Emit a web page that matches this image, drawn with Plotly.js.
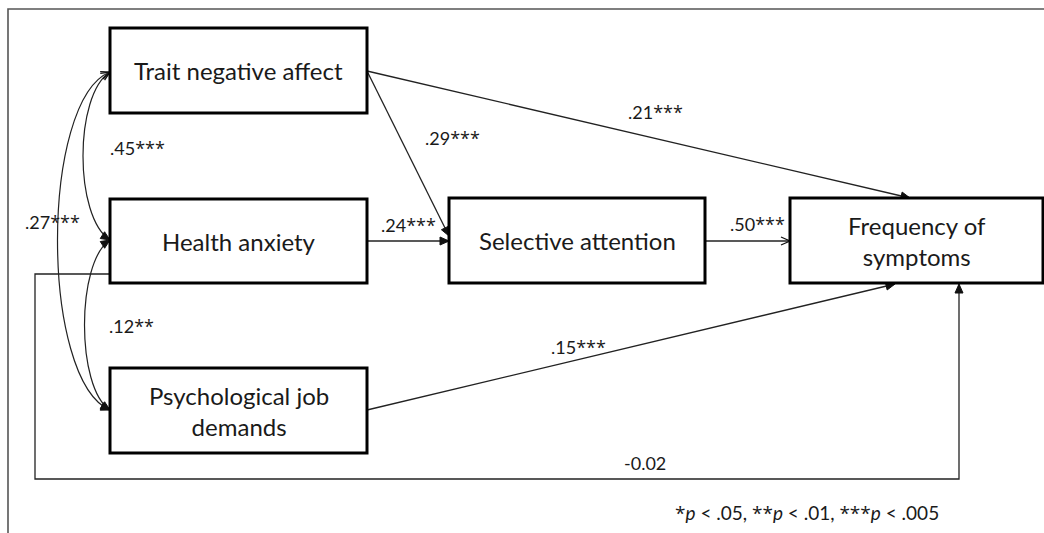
<!DOCTYPE html>
<html><head><meta charset="utf-8">
<script src="https://cdn.plot.ly/plotly-3.0.1.min.js"></script>
<style>html,body{margin:0;padding:0;background:#fff}</style>
</head><body><div id="chart" style="width:1044px;height:533px"></div>
<script>
// ---- data (text content) ----
const nodeIds = ['TNA', 'HA', 'PJD', 'SA', 'FS'];
const nodeLabels = ['Trait negative affect', 'Health anxiety', 'Psychological job<br>demands', 'Selective attention', 'Frequency of<br>symptoms'];
const pathFrom = ['TNA', 'TNA', 'HA', 'SA', 'PJD', 'HA'];
const pathTo = ['FS', 'SA', 'SA', 'FS', 'FS', 'FS'];
const pathCoefficients = ['.21***', '.29***', '.24***', '.50***', '.15***', '-0.02'];
const covPairs = [['TNA', 'HA'], ['TNA', 'PJD'], ['HA', 'PJD']];
const covCoefficients = ['.45***', '.27***', '.12**'];
const footnote = '*<i>p</i> < .05, **<i>p</i> < .01, ***<i>p</i> < .005';

// ---- geometry (pixel layout) ----
const boxGeom = {
  TNA: [110, 28, 367, 113],
  HA: [110, 199, 367, 283],
  PJD: [110, 368, 367, 453],
  SA: [449, 198, 705, 283],
  FS: [790, 198, 1043, 283]
};
const pathRoutes = [
  {pts: [[367, 71], [910, 198]], head: 'fill', lab: [655, 112]},
  {pts: [[367, 71], [449, 236]], head: 'fill', lab: [452, 138]},
  {pts: [[367, 241], [449, 241]], head: 'fill', lab: [408, 225]},
  {pts: [[705, 241], [790, 241]], head: 'open', lab: [757, 224]},
  {pts: [[367, 410], [895, 284]], head: 'fill', lab: [578, 347]},
  {pts: [[110, 274], [35, 274], [35, 479], [959, 479], [959, 284]], head: 'fill', lab: [645, 463]}
];
const covRoutes = [
  {p0: [110, 72], c1: [74, 95], c2: [74, 217], p3: [110, 240], h0: 'open', h1: 'fill', lab: [137, 148]},
  {p0: [110, 72], c1: [40, 100], c2: [40, 380], p3: [110, 410], h0: 'open', h1: 'fill', lab: [52, 222]},
  {p0: [110, 240], c1: [76, 262], c2: [76, 388], p3: [110, 410], h0: 'fill', h1: 'fill', lab: [131, 326]}
];

const FONT = 'Lato, "Open Sans", sans-serif';
const TXT = '#1a1a1a';
const shapes = [];
const annotations = [];

// make asterisks larger / more like the original typeface
function starStyle(s) {
  return s.replace(/(\*+)/g, '<span style="font-family:\'Open Sans\'">$1</span>');
}

shapes.push({type: 'path', xref: 'x', yref: 'y', path: 'M8,533 L8,9 L1044,9', line: {color: '#555', width: 1.6}});

function head(tip, from, style) {
  const dx = tip[0] - from[0], dy = tip[1] - from[1];
  const len = Math.hypot(dx, dy);
  const ux = dx / len, uy = dy / len;
  const nx = -uy, ny = ux;
  const L = 9, W = 4;
  const bx = tip[0] - L * ux, by = tip[1] - L * uy;
  const a = [bx + W * nx, by + W * ny], b = [bx - W * nx, by - W * ny];
  if (style === 'open') {
    shapes.push({type: 'path', xref: 'x', yref: 'y', path: `M${a[0]},${a[1]} L${tip[0]},${tip[1]} L${b[0]},${b[1]}`, line: {color: '#111', width: 1.3}});
  } else {
    shapes.push({type: 'path', xref: 'x', yref: 'y', path: `M${a[0]},${a[1]} L${tip[0]},${tip[1]} L${b[0]},${b[1]} Z`, fillcolor: '#111', line: {color: '#111', width: 1}});
  }
}

pathRoutes.forEach((r, i) => {
  const d = r.pts.map((p, k) => (k ? 'L' : 'M') + p[0] + ',' + p[1]).join(' ');
  shapes.push({type: 'path', xref: 'x', yref: 'y', path: d, line: {color: '#222', width: 1.3}});
  const n = r.pts.length;
  head(r.pts[n - 1], r.pts[n - 2], r.head);
  annotations.push({x: r.lab[0], y: r.lab[1], xref: 'x', yref: 'y', text: starStyle(pathCoefficients[i]), showarrow: false,
    font: {family: FONT, size: 18, color: TXT}, xanchor: 'center', yanchor: 'middle'});
});

covRoutes.forEach((c, i) => {
  const d = `M${c.p0[0]},${c.p0[1]} C${c.c1[0]},${c.c1[1]} ${c.c2[0]},${c.c2[1]} ${c.p3[0]},${c.p3[1]}`;
  shapes.push({type: 'path', xref: 'x', yref: 'y', path: d, line: {color: '#222', width: 1.2}});
  head(c.p0, c.c1, c.h0);
  head(c.p3, c.c2, c.h1);
  annotations.push({x: c.lab[0], y: c.lab[1], xref: 'x', yref: 'y', text: starStyle(covCoefficients[i]), showarrow: false,
    font: {family: FONT, size: 18, color: TXT}, xanchor: 'center', yanchor: 'middle'});
});

nodeIds.forEach((id, i) => {
  const g = boxGeom[id];
  shapes.push({type: 'rect', xref: 'x', yref: 'y', x0: g[0], y0: g[1], x1: g[2], y1: g[3],
    fillcolor: 'rgba(255,255,255,1)', line: {color: '#000', width: 3}});
  annotations.push({x: (g[0] + g[2]) / 2, y: (g[1] + g[3]) / 2, xref: 'x', yref: 'y', text: nodeLabels[i], showarrow: false,
    font: {family: FONT, size: 24, color: TXT}, xanchor: 'center', yanchor: 'middle'});
});

annotations.push({x: 807, y: 513, xref: 'x', yref: 'y', text: starStyle(footnote), showarrow: false,
  font: {family: FONT, size: 19, color: TXT}, xanchor: 'center', yanchor: 'middle'});

const layout = {
  width: 1044, height: 533,
  margin: {l: 0, r: 0, t: 0, b: 0},
  paper_bgcolor: '#fff', plot_bgcolor: '#fff',
  xaxis: {range: [0, 1044], visible: false, fixedrange: true},
  yaxis: {range: [533, 0], visible: false, fixedrange: true},
  showlegend: false,
  shapes: shapes,
  annotations: annotations
};
Plotly.newPlot('chart', [{x: [], y: [], type: 'scatter'}], layout, {displayModeBar: false, staticPlot: true});
</script></body></html>
